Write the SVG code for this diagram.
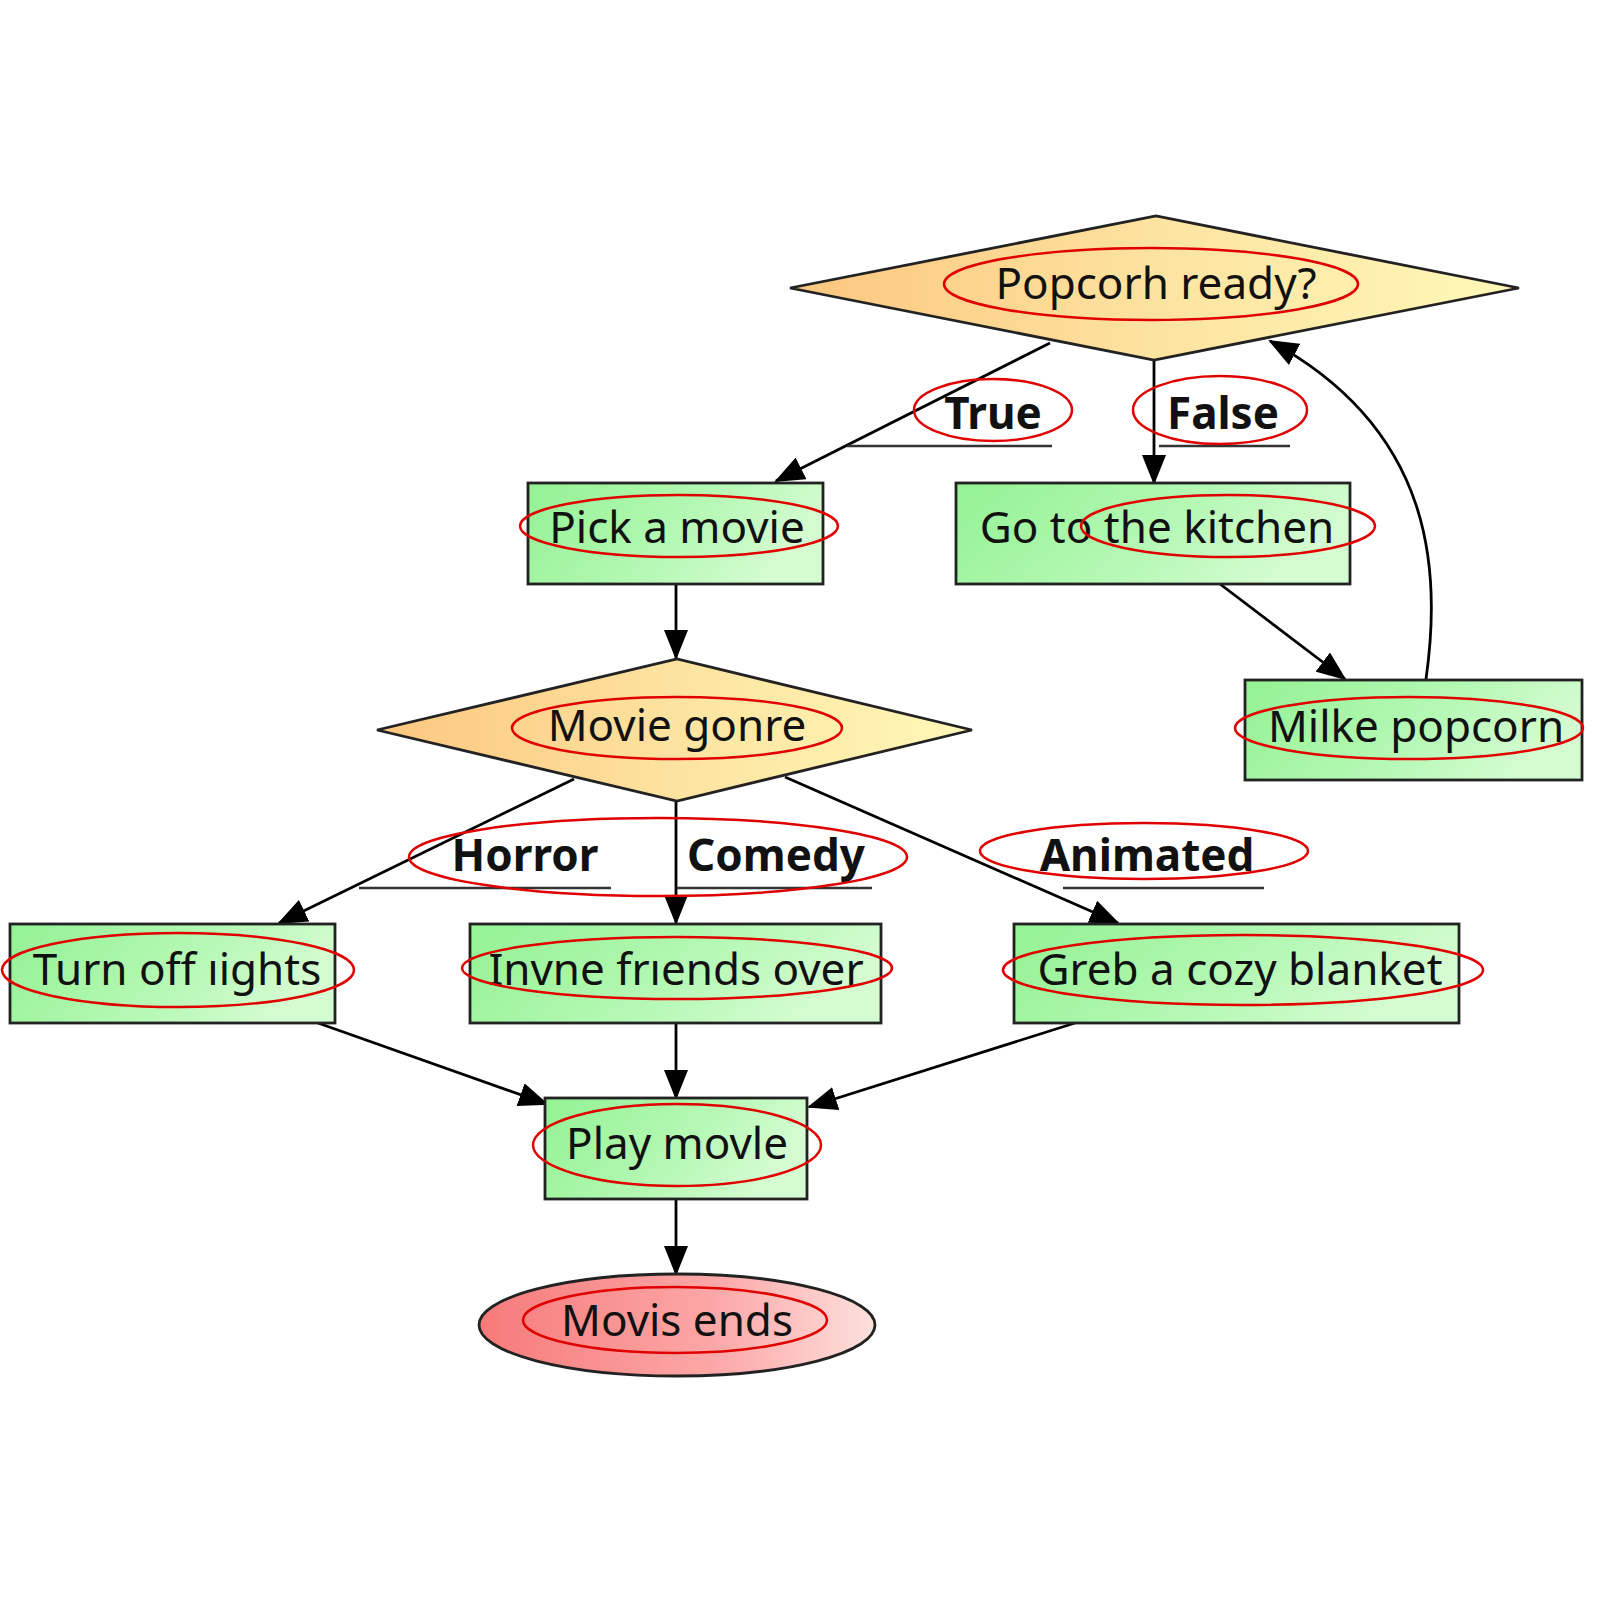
<svg xmlns="http://www.w3.org/2000/svg" width="1608" height="1608" viewBox="0 0 1608 1608">
<defs>
<linearGradient id="gGreen" x1="0" y1="0" x2="1" y2="0.3">
<stop offset="0" stop-color="#93f293"/>
<stop offset="0.6" stop-color="#b4f8b4"/>
<stop offset="1" stop-color="#d4fcd0"/>
</linearGradient>
<linearGradient id="gOrange" x1="0" y1="0" x2="1" y2="0">
<stop offset="0" stop-color="#fcc67e"/>
<stop offset="0.5" stop-color="#fde3a0"/>
<stop offset="1" stop-color="#fff8b8"/>
</linearGradient>
<linearGradient id="gRed" x1="0" y1="0" x2="1" y2="0">
<stop offset="0" stop-color="#f77a7a"/>
<stop offset="0.6" stop-color="#fca8a8"/>
<stop offset="1" stop-color="#fde0dc"/>
</linearGradient>
<marker id="arr" markerUnits="userSpaceOnUse" markerWidth="30" markerHeight="24" refX="28" refY="12" orient="auto">
<path d="M0,0 L30,12 L0,24 Z" fill="#000"/>
</marker>
</defs>
<style>
.box{fill:url(#gGreen);stroke:#222;stroke-width:2.8}
.dia{fill:url(#gOrange);stroke:#222;stroke-width:2.8}
.end{fill:url(#gRed);stroke:#222;stroke-width:2.8}
.t{font-family:"Noto Sans","Open Sans","DejaVu Sans",sans-serif;font-size:44px;fill:#111;text-anchor:middle}
.lb{font-family:"Noto Sans","Open Sans","DejaVu Sans",sans-serif;font-size:44px;font-weight:700;fill:#111;text-anchor:middle}
.ul{stroke:#333;stroke-width:2.5}
.e{fill:none;stroke:#000;stroke-width:2.8;marker-end:url(#arr)}
.red{fill:none;stroke:#e00000;stroke-width:2.5}
</style>
<rect width="1608" height="1608" fill="#fff"/>

<g id="connectors">
<line class="e" x1="1050" y1="343" x2="776" y2="481"/>
<line class="e" x1="1154" y1="360" x2="1154" y2="483"/>
<line class="e" x1="1220" y1="584" x2="1345" y2="679"/>
<path class="e" d="M1426,679 C1441,574 1436,431 1270,341"/>
<line class="e" x1="676" y1="584" x2="676" y2="658"/>
<line class="e" x1="574" y1="779" x2="279" y2="923"/>
<line class="e" x1="676" y1="801" x2="676" y2="923"/>
<line class="e" x1="785" y1="777" x2="1118" y2="923"/>
<line class="e" x1="318" y1="1023" x2="547" y2="1104"/>
<line class="e" x1="676" y1="1023" x2="676" y2="1098"/>
<line class="e" x1="1075" y1="1023" x2="809" y2="1107"/>
<line class="e" x1="676" y1="1199" x2="676" y2="1274"/>
</g>

<g id="edge-labels">
<text class="lb" x="993" y="429">True</text>
<line class="ul" x1="847" y1="446" x2="1052" y2="446"/>
<text class="lb" x="1223" y="429">False</text>
<line class="ul" x1="1159" y1="446" x2="1290" y2="446"/>
<text class="lb" x="525" y="871">Horror</text>
<line class="ul" x1="359" y1="888" x2="611" y2="888"/>
<text class="lb" x="776" y="871">Comedy</text>
<line class="ul" x1="677" y1="888" x2="872" y2="888"/>
<text class="lb" x="1147" y="871">Animated</text>
<line class="ul" x1="1063" y1="888" x2="1264" y2="888"/>
</g>

<g id="popcorn-ready">
<polygon class="dia" points="790,288 1156,216 1519,288 1154,360"/>
<text class="t" x="1156" y="299">Popcorh ready?</text>
</g>
<g id="pick-movie">
<rect class="box" x="528" y="483" width="295" height="101"/>
<text class="t" x="677" y="543">Pick a movie</text>
</g>
<g id="kitchen">
<rect class="box" x="956" y="483" width="394" height="101"/>
<text class="t" x="1157" y="543">Go to the kitchen</text>
</g>
<g id="make-popcorn">
<rect class="box" x="1245" y="680" width="337" height="100"/>
<text class="t" x="1416" y="742">Milke popcorn</text>
</g>
<g id="movie-genre">
<polygon class="dia" points="377,730 677,659 972,730 677,801"/>
<text class="t" x="677" y="741">Movie gonre</text>
</g>
<g id="lights">
<rect class="box" x="10" y="924" width="325" height="99"/>
<text class="t" x="177" y="985">Turn off ıights</text>
</g>
<g id="friends">
<rect class="box" x="470" y="924" width="411" height="99"/>
<text class="t" x="676" y="985">Invne frıends over</text>
</g>
<g id="blanket">
<rect class="box" x="1014" y="924" width="445" height="99"/>
<text class="t" x="1240" y="985">Greb a cozy blanket</text>
</g>
<g id="play">
<rect class="box" x="545" y="1098" width="262" height="101"/>
<text class="t" x="677" y="1159">Play movle</text>
</g>
<g id="end">
<ellipse class="end" cx="677" cy="1325" rx="198" ry="51"/>
<text class="t" x="677" y="1336">Movis ends</text>
</g>

<g id="annotations">
<ellipse class="red" cx="1151" cy="284" rx="207" ry="36"/>
<ellipse class="red" cx="993" cy="410" rx="79" ry="31"/>
<ellipse class="red" cx="1220" cy="410" rx="87" ry="34"/>
<ellipse class="red" cx="679" cy="526" rx="159" ry="31"/>
<ellipse class="red" cx="1228" cy="526" rx="147" ry="31"/>
<ellipse class="red" cx="1409" cy="728" rx="174" ry="31"/>
<ellipse class="red" cx="677" cy="728" rx="165" ry="31"/>
<ellipse class="red" cx="658" cy="857" rx="249" ry="39"/>
<ellipse class="red" cx="1144" cy="851" rx="164" ry="28"/>
<ellipse class="red" cx="178" cy="970" rx="176" ry="37"/>
<ellipse class="red" cx="677" cy="968" rx="215" ry="31"/>
<ellipse class="red" cx="1243" cy="970" rx="240" ry="35"/>
<ellipse class="red" cx="677" cy="1145" rx="144" ry="41"/>
<ellipse class="red" cx="675" cy="1320" rx="152" ry="33"/>
</g>
</svg>
